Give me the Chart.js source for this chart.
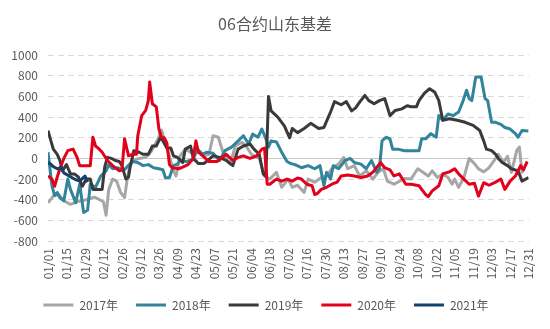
<!DOCTYPE html>
<html>
<head>
<meta charset="utf-8">
<script src="https://cdn.jsdelivr.net/npm/chart.js@4.4.1/dist/chart.umd.min.js"></script>
<style>
  html, body { margin:0; padding:0; background:#fff; }
  #wrap { width:550px; height:329px; }
</style>
</head>
<body>
<div id="wrap"><canvas id="chart" width="550" height="329"></canvas></div>
<script>
/* ---------- Data (day of year -> basis) ---------- */
const tickLabels = ['01/01','01/15','01/29','02/12','02/26','03/12','03/26','04/09','04/23','05/07','05/21','06/04','06/18',
  '07/02','07/16','07/30','08/13','08/27','09/10','09/24','10/08','10/22','11/05','11/19','12/03','12/17','12/31'];

const days17 = [0,4,8,12,17,22,29,35,39,42,44,46,49,52,55,58,60,62,64,69,74,78,83,86,89,92,95,97,100,104,108,112,115,118,122,125,129,133,138,142,147,150,154,160,164,168,173,177,182,185,189,194,197,202,207,211,215,220,224,227,232,236,241,246,250,254,257,262,270,275,280,284,288,291,295,299,303,306,308,311,315,319,323,326,330,334,338,341,345,348,351,355,357,359,361];
const vals17 = [-430,-365,-350,-410,-445,-420,-400,-375,-400,-420,-550,-300,-200,-220,-330,-380,-200,-60,-20,0,10,65,180,275,140,20,-120,-170,25,90,60,50,70,25,40,220,205,40,-55,125,155,120,40,0,-170,-200,-135,-280,-200,-280,-260,-330,-200,-230,-185,-170,-100,-55,10,-100,-70,-170,-120,-200,-135,-100,-220,-250,-195,-200,-100,-135,-170,-120,-185,-150,-185,-250,-200,-280,-185,0,-50,-100,-130,-90,-20,40,-40,20,-135,75,110,-135,-100];

const days18 = [0,3,5,7,9,12,15,17,21,24,27,30,32,36,40,44,46,49,53,57,60,64,68,72,76,80,84,87,89,92,95,98,100,105,110,113,117,120,125,130,134,139,144,148,152,155,159,162,165,167,169,173,177,181,184,187,192,197,202,206,209,211,214,216,220,225,229,232,237,241,245,249,251,253,256,259,261,265,270,276,281,283,286,290,294,296,299,303,307,311,314,317,319,321,324,328,331,333,336,339,343,346,350,354,356,359,364];
const vals18 = [60,-265,-360,-330,-380,-410,-200,-300,-430,-250,-525,-500,-250,-280,-170,-120,-60,-100,-90,-120,-80,-30,-40,-70,-60,-90,-100,-110,-190,-185,-70,-55,-20,-30,-10,90,40,60,50,-20,75,110,170,220,140,235,205,285,190,110,170,160,60,-30,-50,-60,-90,-70,-100,-70,-265,-135,-200,-70,-100,-20,0,-40,-55,-100,-20,-135,-100,170,205,190,90,90,75,75,75,190,190,240,205,415,370,430,415,450,545,660,580,560,790,790,580,560,350,350,330,300,285,240,205,270,265];

const days19 = [0,2,4,7,9,11,14,17,20,23,26,29,32,34,41,43,45,48,51,54,56,59,61,62,65,69,72,76,79,82,85,87,90,93,95,98,102,104,108,110,114,118,121,125,130,135,140,144,148,153,156,160,163,165,167,169,174,179,183,185,189,194,199,205,209,212,214,217,222,226,230,233,236,240,243,247,251,255,259,263,268,272,275,279,281,285,289,293,296,299,304,310,316,322,327,330,332,336,339,341,344,348,351,356,359,364];
const vals19 = [270,180,90,40,-20,-120,-60,-150,-150,-180,-270,-200,-200,-300,-300,-80,10,0,-20,-30,-70,-200,-180,-100,75,60,40,40,120,120,200,170,100,100,25,10,-40,90,120,0,-50,-50,-20,25,10,-20,-70,90,120,140,90,40,-150,-175,600,460,400,315,200,290,250,290,340,290,300,390,450,550,520,550,460,490,545,610,560,530,560,580,415,465,480,510,500,500,560,630,675,640,560,370,385,370,350,320,270,170,90,75,40,0,-40,-70,-100,-120,-220,-185];

const days20 = [0,3,5,7,9,12,15,19,22,24,32,34,36,38,41,45,49,54,56,58,61,64,67,68,71,74,76,77,79,82,84,86,88,90,92,94,99,102,106,110,112,114,118,122,128,132,135,140,144,148,153,158,162,164,166,168,173,177,181,185,189,192,196,200,202,204,207,211,215,219,222,227,232,237,242,246,250,252,255,259,262,266,271,275,281,286,288,291,296,299,304,308,311,315,319,323,326,330,334,339,343,346,350,354,358,360,363];
const vals20 = [-170,-200,-270,-180,-100,0,75,90,10,-70,-70,205,120,100,60,-20,-70,-120,-110,190,25,40,40,220,415,465,560,740,530,500,285,200,200,150,-60,-90,-100,-85,-60,0,170,60,15,-30,-30,10,40,-20,10,25,0,25,90,100,-250,-250,-200,-220,-200,-220,-190,-200,-250,-265,-350,-340,-300,-280,-250,-230,-170,-160,-170,-185,-170,-135,-70,-40,-90,-110,-170,-150,-250,-250,-265,-350,-370,-315,-265,-150,-130,-100,-150,-200,-250,-240,-365,-235,-260,-230,-200,-300,-220,-170,-70,-110,-30];

const days21 = [0,2,4,7,10,12,16,20,24,28,30];
const vals21 = [-40,-55,-80,-100,-90,-140,-170,-200,-220,-170,-230];

/* ---------- Chart ---------- */
Chart.defaults.font.family = '"Noto Sans CJK SC", "Noto Sans", sans-serif';
Chart.defaults.color = '#595959';

const pts = (d, v) => d.map((x, i) => ({ x, y: v[i] }));
const series = (label, d, v, color, order) => ({
  label, data: pts(d, v), borderColor: color, backgroundColor: color,
  borderWidth: 3, pointRadius: 0, tension: 0, fill: false,
  borderJoinStyle: 'round', order
});

// legend sits a little left of centre in the original
const legendNudge = { id: 'legendNudge', afterLayout(c){ c.legend.left -= 18; } };

new Chart(document.getElementById('chart'), {
  type: 'line',
  data: {
    datasets: [
      series('2017年', days17, vals17, '#A6A6A6', 5),
      series('2018年', days18, vals18, '#31849B', 4),
      series('2019年', days19, vals19, '#3A3A3A', 3),
      series('2020年', days20, vals20, '#E3001B', 2),
      series('2021年', days21, vals21, '#14426B', 1),
    ]
  },
  plugins: [legendNudge],
  options: {
    responsive: false,
    animation: false,
    layout: { padding: { left: 0, right: 0, top: 0, bottom: 8 } },
    plugins: {
      title: {
        display: true, text: '06合约山东基差', color: '#595959',
        font: { size: 16, weight: 'normal' },
        padding: { top: 14, bottom: 22 }
      },
      legend: {
        position: 'bottom', align: 'center',
        labels: {
          usePointStyle: true, pointStyle: 'line', pointStyleWidth: 30,
          boxHeight: 12, padding: 18, color: '#595959', font: { size: 12 },
          sort: (a, b) => a.datasetIndex - b.datasetIndex
        }
      },
      tooltip: { enabled: false }
    },
    scales: {
      x: {
        type: 'linear', min: 0, max: 364,
        grid: { display: false, drawTicks: false },
        border: { display: false },
        ticks: {
          stepSize: 14, autoSkip: false, maxRotation: 90, minRotation: 90,
          padding: 7, font: { size: 12 }, color: '#595959',
          callback: v => tickLabels[Math.round(v / 14)]
        },
        afterFit: s => { s.height = 40; }
      },
      y: {
        min: -800, max: 1000,
        ticks: { stepSize: 200, padding: 10, font: { size: 12 }, color: '#595959', callback: v => String(v) },
        grid: {
          drawTicks: false,
          color: ctx => ctx.tick && ctx.tick.value === 0 ? '#C8C8C8' : '#D9D9D9'
        },
        border: {
          display: false,
          dash: ctx => ctx.tick && ctx.tick.value === 0 ? [] : [6, 4]
        },
        afterFit: s => { s.width = 48; }
      },
      yRight: {
        position: 'right', display: true,
        grid: { display: false, drawTicks: false },
        border: { display: false },
        ticks: { display: false },
        afterFit: s => { s.width = 16; }
      }
    }
  }
});
</script>
</body>
</html>
